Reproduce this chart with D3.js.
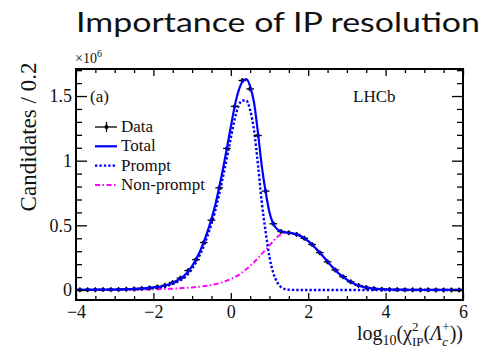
<!DOCTYPE html>
<html><head><meta charset="utf-8">
<script src="https://cdn.jsdelivr.net/npm/d3@7"></script>
<style>body{margin:0;background:#fff} svg{display:block}</style>
</head><body>
<svg id="c" width="498" height="350"></svg>
<script>
// ---- data (values in units of 10^6 candidates per 0.2) ----
const dataX = [-3.9,-3.7,-3.5,-3.3,-3.1,-2.9,-2.7,-2.5,-2.3,-2.1,-1.9,-1.7,-1.5,-1.3,-1.1,-0.9,-0.7,-0.5,-0.3,-0.1,
  0.1,0.3,0.5,0.7,0.9,1.1,1.3,1.5,1.7,1.9,2.1,2.3,2.5,2.7,2.9,3.1,3.3,3.5,3.7,3.9,
  4.1,4.3,4.5,4.7,4.9,5.1,5.3,5.5,5.7,5.9];
const dataY = [0.001,0.002,0.002,0.003,0.003,0.004,0.006,0.008,0.011,0.016,0.024,0.036,0.058,0.092,0.150,0.235,0.367,0.540,0.790,1.095,
  1.420,1.620,1.555,1.195,0.765,0.512,0.452,0.443,0.430,0.400,0.352,0.289,0.218,0.155,0.103,0.063,0.035,0.020,0.011,0.006,
  0.004,0.003,0.002,0.001,0.001,0.001,0.0005,0.0005,0.0005,0.0003];

const curveX = [-4,-3.5,-3,-2.5,-2,-1.8,-1.6,-1.4,-1.2,-1,-0.8,-0.6,-0.4,-0.2,0,0.1,0.2,0.3,0.4,0.5,0.6,0.7,0.8,0.9,
  1.0,1.1,1.2,1.3,1.4,1.5,1.6,1.7,1.8,1.9,2.0,2.2,2.4,2.6,2.8,3.0,3.2,3.4,3.6,3.8,4.0,4.5,5,5.5,6];
const totalY = [0.0015,0.0023,0.004,0.008,0.02,0.027,0.044,0.072,0.111,0.185,0.296,0.453,0.66,0.94,1.26,1.42,1.54,1.61,1.63,1.575,1.45,1.22,0.96,0.76,
  0.60,0.51,0.47,0.455,0.447,0.443,0.438,0.43,0.418,0.40,0.378,0.32,0.255,0.185,0.125,0.08,0.047,0.026,0.014,0.008,0.005,0.002,0.001,0.0005,0.0003];
const promptY = [0.001,0.0015,0.003,0.006,0.015,0.02,0.035,0.06,0.095,0.165,0.27,0.42,0.615,0.878,1.175,1.32,1.425,1.465,1.465,1.39,1.235,0.975,0.68,0.45,
  0.255,0.13,0.06,0.022,0.007,0.002,0.001,0.0005,0,0,0,0,0,0,0,0,0,0,0,0,0,0,0,0,0];
const nonPromptY = [0.0005,0.0008,0.001,0.002,0.005,0.007,0.009,0.012,0.016,0.02,0.026,0.033,0.045,0.062,0.085,0.1,0.115,0.137,0.16,0.187,0.215,0.245,0.28,0.31,
  0.345,0.38,0.41,0.432,0.44,0.441,0.437,0.43,0.418,0.40,0.378,0.32,0.255,0.185,0.125,0.08,0.047,0.026,0.014,0.008,0.005,0.002,0.001,0.0005,0.0003];

const xMajorTicks = [-4,-2,0,2,4,6];
const xMinorTicks = [-3.5,-3,-2.5,-1.5,-1,-0.5,0.5,1,1.5,2.5,3,3.5,4.5,5,5.5];
const yMajorTicks = [0,0.5,1,1.5];
const yMinorTicks = [0.1,0.2,0.3,0.4,0.6,0.7,0.8,0.9,1.1,1.2,1.3,1.4,1.6,1.7];
const legendLabels = ["Data","Total","Prompt","Non-prompt"];

// ---- layout ----
const L = 76, R = 463, T = 69, B = 300;
const svg = d3.select("#c");
const x = d3.scaleLinear().domain([-4, 6]).range([L, R]);
const y = d3.scaleLinear().domain([-0.0773, 1.709]).range([B, T]);
const serif = "'Liberation Serif','Times New Roman',serif";

// title
svg.append("text").attr("x", 76).attr("y", 32)
  .attr("font-family", "Lato, 'Open Sans', sans-serif").attr("font-size", 27).attr("font-weight", 400)
  .attr("fill", "#111").attr("textLength", 404).attr("lengthAdjust", "spacingAndGlyphs")
  .text("Importance of IP resolution");

// clip
svg.append("clipPath").attr("id", "clip").append("rect")
  .attr("x", L).attr("y", T).attr("width", R - L).attr("height", B - T);
const plot = svg.append("g").attr("clip-path", "url(#clip)");

// curves
const mk = arr => d3.line().x((d, i) => x(curveX[i])).y(d => y(d)).curve(d3.curveMonotoneX)(arr);
plot.append("path").attr("d", mk(nonPromptY)).attr("fill", "none").attr("stroke", "#ff00ff")
  .attr("stroke-width", 2).attr("stroke-dasharray", "5,2.5,1.5,2.5");
plot.append("path").attr("d", mk(promptY)).attr("fill", "none").attr("stroke", "#0000ff")
  .attr("stroke-width", 2.4).attr("stroke-dasharray", "2.4,2");

// data points
const pts = plot.append("g");
dataX.forEach((dx, i) => {
  const cx = x(dx), cy = y(dataY[i]);
  pts.append("line").attr("x1", x(dx - 0.1)).attr("x2", x(dx + 0.1)).attr("y1", cy).attr("y2", cy)
    .attr("stroke", "#000").attr("stroke-width", 1.3);
  pts.append("line").attr("x1", cx).attr("x2", cx).attr("y1", cy - 2.5).attr("y2", cy + 2.5)
    .attr("stroke", "#000").attr("stroke-width", 1.3);
  pts.append("rect").attr("x", cx - 1.6).attr("y", cy - 1.6).attr("width", 3.2).attr("height", 3.2).attr("fill", "#000");
});

plot.append("path").attr("d", mk(totalY)).attr("fill", "none").attr("stroke", "#0000ff")
  .attr("stroke-width", 2.2);

// axes
function styleAxis(g) {
  g.select(".domain").remove();
  g.selectAll(".tick line").attr("stroke", "#000").attr("stroke-width", 1.3);
  g.selectAll("text").attr("font-family", serif).attr("font-size", 18).attr("fill", "#111");
}
const fmt = d => d < 0 ? "\u2212" + Math.abs(d) : String(d);
svg.append("g").attr("transform", `translate(0,${B})`)
  .call(d3.axisBottom(x).tickValues(xMajorTicks).tickFormat(fmt).tickSizeInner(-7).tickSizeOuter(0).tickPadding(5.5))
  .call(styleAxis);
svg.append("g").attr("transform", `translate(0,${B})`)
  .call(d3.axisBottom(x).tickValues(xMinorTicks).tickFormat("").tickSizeInner(-4).tickSizeOuter(0)).call(styleAxis);
svg.append("g").attr("transform", `translate(0,${T})`)
  .call(d3.axisTop(x).tickValues(xMajorTicks).tickFormat("").tickSizeInner(-7).tickSizeOuter(0)).call(styleAxis);
svg.append("g").attr("transform", `translate(0,${T})`)
  .call(d3.axisTop(x).tickValues(xMinorTicks).tickFormat("").tickSizeInner(-4).tickSizeOuter(0)).call(styleAxis);

svg.append("g").attr("transform", `translate(${L},0)`)
  .call(d3.axisLeft(y).tickValues(yMajorTicks).tickFormat(d => String(d)).tickSizeInner(-11).tickSizeOuter(0).tickPadding(4))
  .call(styleAxis);
svg.append("g").attr("transform", `translate(${L},0)`)
  .call(d3.axisLeft(y).tickValues(yMinorTicks).tickFormat("").tickSizeInner(-6).tickSizeOuter(0)).call(styleAxis);
svg.append("g").attr("transform", `translate(${R},0)`)
  .call(d3.axisRight(y).tickValues(yMajorTicks).tickFormat("").tickSizeInner(-11).tickSizeOuter(0)).call(styleAxis);
svg.append("g").attr("transform", `translate(${R},0)`)
  .call(d3.axisRight(y).tickValues(yMinorTicks).tickFormat("").tickSizeInner(-6).tickSizeOuter(0)).call(styleAxis);

// frame
svg.append("rect").attr("x", L).attr("y", T).attr("width", R - L).attr("height", B - T)
  .attr("fill", "none").attr("stroke", "#000").attr("stroke-width", 2);

// x10^6
const ex = svg.append("text").attr("x", 75).attr("y", 63).attr("font-family", serif).attr("font-size", 14).attr("fill", "#111");
ex.append("tspan").text("\u00d710");
ex.append("tspan").attr("font-size", 10).attr("dy", -6).text("6");

// (a) and LHCb
svg.append("text").attr("x", 90).attr("y", 102).attr("font-family", serif).attr("font-size", 17).attr("fill", "#111").text("(a)");
svg.append("text").attr("x", 353).attr("y", 102).attr("font-family", serif).attr("font-size", 17).attr("fill", "#111").text("LHCb");

// y label
svg.append("text").attr("transform", "translate(36,137) rotate(-90)").attr("text-anchor", "middle")
  .attr("font-family", serif).attr("font-size", 23).attr("fill", "#111").text("Candidates / 0.2");

// legend
const lg = svg.append("g");
const lx1 = 95, lx2 = 117, ly0 = 127, lstep = 19.3;
legendLabels.forEach((lab, i) => {
  const yy = ly0 + i * lstep;
  lg.append("text").attr("x", 121).attr("y", yy + 5).attr("font-family", serif).attr("font-size", 17)
    .attr("fill", "#111").text(lab);
});
// data symbol
lg.append("line").attr("x1", lx1).attr("x2", lx2).attr("y1", ly0).attr("y2", ly0).attr("stroke", "#000").attr("stroke-width", 1.3);
lg.append("line").attr("x1", 106.5).attr("x2", 106.5).attr("y1", ly0 - 5).attr("y2", ly0 + 5).attr("stroke", "#000").attr("stroke-width", 1.3);
lg.append("rect").attr("x", 104.8).attr("y", ly0 - 1.7).attr("width", 3.4).attr("height", 3.4).attr("fill", "#000");
lg.append("line").attr("x1", lx1).attr("x2", lx2).attr("y1", ly0 + lstep).attr("y2", ly0 + lstep).attr("stroke", "#0000ff").attr("stroke-width", 2.2);
lg.append("line").attr("x1", lx1).attr("x2", lx2).attr("y1", ly0 + 2 * lstep).attr("y2", ly0 + 2 * lstep).attr("stroke", "#0000ff").attr("stroke-width", 2.4).attr("stroke-dasharray", "2.4,2");
lg.append("line").attr("x1", lx1).attr("x2", lx2).attr("y1", ly0 + 3 * lstep).attr("y2", ly0 + 3 * lstep).attr("stroke", "#ff00ff").attr("stroke-width", 2).attr("stroke-dasharray", "5,2.5,1.5,2.5");

// x label: log10(chi^2_IP(Lambda_c^+))
const pieces = [
  {t: "log", s: 20},
  {t: "10", s: 14, dy: 5},
  {t: "(\u03c7", s: 20},
  {t: "2", s: 13, dy: -9},
  {t: "IP", s: 13, dy: 6, stack: true},
  {t: "(", s: 20},
  {t: "\u039b", s: 20, it: true},
  {t: "c", s: 13, dy: 6, it: true},
  {t: "+", s: 13, dy: -9, stack: true},
  {t: "))", s: 20}
];
const xl = svg.append("g");
let cur = 0, prevStart = 0, prevW = 0;
const placed = [];
pieces.forEach(p => {
  const el = xl.append("text").attr("font-family", serif).attr("font-size", p.s).attr("fill", "#111")
    .attr("font-style", p.it ? "italic" : "normal").text(p.t);
  const w = el.node().getComputedTextLength();
  let start;
  if (p.stack) { start = prevStart; cur = prevStart + Math.max(prevW, w); }
  else { start = cur; cur = start + w; }
  placed.push({el, start, dy: p.dy || 0});
  prevStart = start; prevW = w;
});
const total = cur, xStart = R - total, base = 340;
placed.forEach(p => p.el.attr("x", xStart + p.start).attr("y", base + p.dy));
</script>
</body></html>
